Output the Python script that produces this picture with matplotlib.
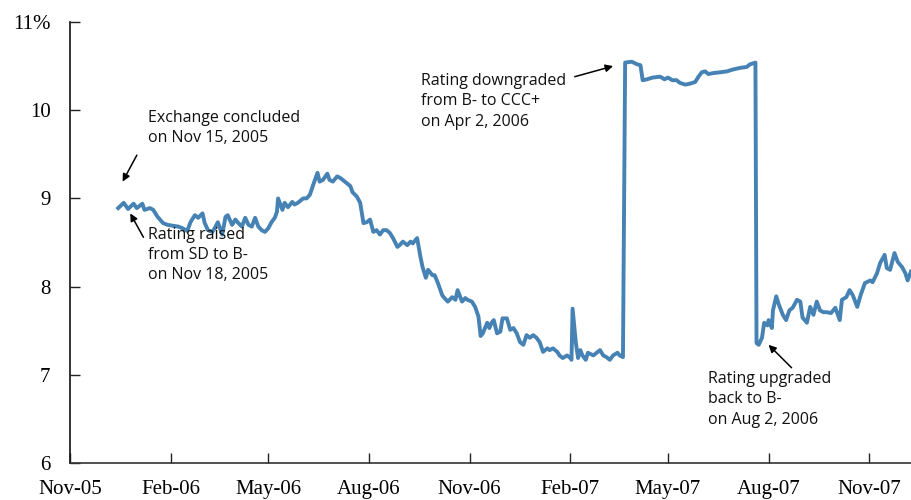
import matplotlib
matplotlib.use("Agg")
import matplotlib.pyplot as plt
import matplotlib.dates as mdates
import numpy as np
import pandas as pd

# days after 1 Nov 2005, and yield in %
days = [44, 49, 53, 58, 61, 66, 68, 73, 76, 80, 85, 89, 94, 99, 103, 107, 110, 114, 117, 121,
        123, 126, 130, 132, 135, 139, 142, 144, 148, 151, 153, 157, 160, 163, 166, 169, 172, 175,
        178, 181, 184, 187, 189, 190, 194, 196, 199, 203, 205, 208, 213, 216, 219, 222, 226, 228,
        231, 235, 237, 240, 244, 247, 249, 253, 256, 258, 262, 265, 268, 271, 274, 277, 280, 283,
        286, 289, 292, 295, 299, 301, 304, 308, 311, 313, 317, 320, 322, 325, 327, 331, 333, 336,
        340, 342, 345, 349, 352, 354, 358, 361, 363, 367, 370, 373, 375, 377, 381, 383, 385, 387,
        390, 393, 395, 399, 402, 405, 408, 411, 414, 417, 420, 423, 426, 429, 432, 436, 438, 441,
        445, 447, 450, 454, 457, 458, 459, 462, 464, 466, 468, 471, 473, 478, 481, 484, 487, 490,
        493, 496, 500, 502, 505, 507, 513, 518, 521, 523, 527, 532, 539, 543, 546, 550, 554, 557,
        562, 566, 571, 574, 577, 580, 583, 587, 594, 600, 605, 612, 618, 621, 626, 627, 629, 632,
        634, 637, 638, 641, 642, 645, 647, 651, 654, 657, 660, 664, 667, 669, 673, 676, 679, 682,
        685, 688, 691, 695, 699, 703, 705, 709, 712, 715, 719, 722, 726, 731, 733, 737, 740, 744,
        746, 749, 753, 756, 760, 763, 765, 768]
yields = [8.89, 8.95, 8.88, 8.94, 8.89, 8.94, 8.87, 8.89, 8.87, 8.79, 8.72, 8.70, 8.69, 8.68,
          8.66, 8.63, 8.73, 8.81, 8.78, 8.83, 8.72, 8.64, 8.62, 8.66, 8.73, 8.59, 8.79, 8.81,
          8.70, 8.76, 8.73, 8.68, 8.78, 8.70, 8.68, 8.78, 8.68, 8.64, 8.62, 8.66, 8.73, 8.78,
          8.85, 9.00, 8.87, 8.95, 8.90, 8.96, 8.93, 8.95, 9.00, 9.00, 9.04, 9.15, 9.29, 9.19,
          9.21, 9.28, 9.21, 9.19, 9.25, 9.23, 9.21, 9.17, 9.14, 9.07, 9.02, 8.95, 8.72, 8.73,
          8.76, 8.62, 8.64, 8.59, 8.64, 8.64, 8.61, 8.55, 8.45, 8.47, 8.51, 8.47, 8.51, 8.49,
          8.55, 8.34, 8.22, 8.10, 8.19, 8.13, 8.13, 8.04, 7.90, 7.87, 7.83, 7.88, 7.85, 7.96,
          7.83, 7.87, 7.85, 7.83, 7.77, 7.66, 7.44, 7.47, 7.59, 7.53, 7.59, 7.62, 7.47, 7.49,
          7.64, 7.64, 7.51, 7.53, 7.47, 7.37, 7.34, 7.45, 7.42, 7.45, 7.42, 7.37, 7.26, 7.30,
          7.28, 7.30, 7.26, 7.22, 7.19, 7.22, 7.19, 7.17, 7.75, 7.36, 7.19, 7.28, 7.22, 7.17,
          7.25, 7.22, 7.25, 7.28, 7.22, 7.20, 7.17, 7.22, 7.25, 7.22, 7.20, 10.54, 10.55, 10.52,
          10.51, 10.34, 10.35, 10.37, 10.38, 10.35, 10.37, 10.34, 10.34, 10.31, 10.29, 10.30,
          10.32, 10.38, 10.43, 10.44, 10.41, 10.42, 10.43, 10.44, 10.46, 10.48, 10.49, 10.52,
          10.54, 7.36, 7.34, 7.42, 7.59, 7.56, 7.62, 7.53, 7.73, 7.89, 7.81, 7.68, 7.62, 7.73,
          7.76, 7.85, 7.83, 7.65, 7.59, 7.77, 7.68, 7.83, 7.73, 7.71, 7.71, 7.70, 7.76, 7.62,
          7.85, 7.88, 7.96, 7.90, 7.77, 7.90, 8.04, 8.07, 8.05, 8.15, 8.27, 8.36, 8.21, 8.19,
          8.38, 8.28, 8.22, 8.15, 8.07, 8.17]

start = pd.Timestamp("2005-11-01")
dates = start + pd.to_timedelta(days, unit="D")

# (text, text pos, arrow tail, arrow head) in (days, %)
notes = [
    ("Exchange concluded\non Nov 15, 2005", (71, 10.0), (61, 9.49), (48, 9.19)),
    ("Rating raised\nfrom SD to B-\non Nov 18, 2005", (71, 8.68), (67, 8.56), (55, 8.83)),
    ("Rating downgraded\nfrom B- to CCC+\non Apr 2, 2006", (321, 10.42), (461, 10.38), (496, 10.50)),
    ("Rating upgraded\nback to B-\non Aug 2, 2006", (583, 7.04), (659, 7.08), (638, 7.34)),
]

fig = plt.figure(figsize=(9.12, 5.0), dpi=100)
ax = fig.add_axes([0.0768, 0.074, 0.9232, 0.882])

ax.plot(dates, yields, color="#4682b4", lw=2.8, solid_joinstyle="round")

ax.set_ylim(6, 11)
ax.set_xlim(start, start + pd.Timedelta(days=769))
ax.set_yticks([6, 7, 8, 9, 10, 11])
ax.set_yticklabels(["6", "7", "8", "9", "10", "11%"])

ax.xaxis.set_major_locator(mdates.MonthLocator(bymonth=[2, 5, 8, 11], bymonthday=1))
ax.xaxis.set_major_formatter(mdates.DateFormatter("%b-%y"))

for lab in ax.get_xticklabels() + ax.get_yticklabels():
    lab.set_fontfamily("Liberation Serif")
    lab.set_fontsize(15)

ax.tick_params(axis="both", direction="in", length=7, width=1, color="#222222")
ax.tick_params(axis="y", pad=14)
ax.tick_params(axis="x", pad=12)
ax.spines["top"].set_visible(False)
ax.spines["right"].set_visible(False)
ax.spines["left"].set_color("#111111")
ax.spines["bottom"].set_color("#333333")
ax.spines["left"].set_linewidth(1.2)
ax.spines["bottom"].set_linewidth(1.2)

for txt, tpos, tail, head in notes:
    ax.text(start + pd.Timedelta(days=tpos[0]), tpos[1], txt, ha="left", va="top",
            fontsize=11.5, family="Open Sans", color="#111111", linespacing=1.35)
    ax.annotate("", xy=(start + pd.Timedelta(days=head[0]), head[1]),
                xytext=(start + pd.Timedelta(days=tail[0]), tail[1]),
                arrowprops=dict(arrowstyle="-|>", color="black", lw=1.1,
                                mutation_scale=11, shrinkA=0, shrinkB=0))

fig.savefig("out.png", dpi=100)
